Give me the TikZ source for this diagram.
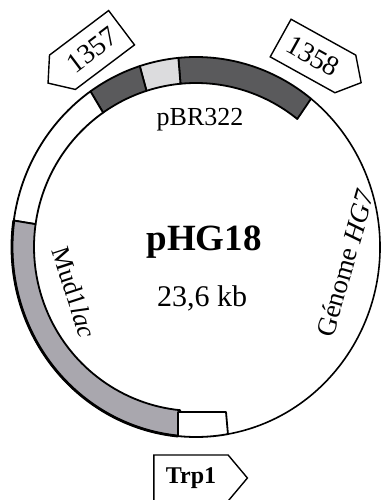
\documentclass[tikz,border=0pt]{standalone}
\usepackage{fontspec}
\setmainfont{Liberation Serif}
\usetikzlibrary{shapes.symbols,calc}

\definecolor{darkseg}{HTML}{5A5A5C}
\definecolor{lightseg}{HTML}{DCDCDE}
\definecolor{mudseg}{HTML}{A9A7AE}

% one coloured block of the plasmid band, between two angles
\newcommand{\bandblock}[3]{%
  \path[seg,fill=#3] ($(c)+(#1:184 and 190)$)
    arc[start angle=#1,end angle=#2,x radius=184,y radius=190]
    -- ($(c)+(#2:162 and 164)$)
    arc[start angle=#2,end angle=#1,x radius=162,y radius=164] -- cycle;}

\begin{document}
\begin{tikzpicture}[x=1pt,y=1pt,
  seg/.style={draw=black,line width=1.8pt,line join=round},
  tag/.style={signal,draw=black,line width=1.4pt,fill=white,
    inner ysep=0pt,inner xsep=9pt,minimum height=43pt,
    signal pointer angle=100,font=\fontsize{28}{28}\selectfont},
  lbl/.style={font=\fontsize{26}{26}\selectfont,inner sep=0pt}]
\useasboundingbox (0,0) rectangle (381,500);
\clip (0,0) rectangle (381,500);
\coordinate (c) at (196,253);

% plasmid band
\bandblock{51.3}{95.5}{darkseg}
\bandblock{95.5}{107.8}{lightseg}
\bandblock{107.8}{125}{darkseg}
\bandblock{125}{172}{white}
\bandblock{172}{264.4}{mudseg}
\draw[line width=2.8pt] ($(c)+(172:184 and 190)$)
  arc[start angle=172,end angle=264.4,x radius=184,y radius=190];

% genomic part: single line
\draw[line width=1.6pt] ($(c)+(-80:184 and 190)$)
  arc[start angle=-80,end angle=51.3,x radius=184,y radius=190];

% Trp1 block
\coordinate (tl) at ($(c)+(264.4:184 and 190)$);
\coordinate (tr) at ($(c)+(-80:184 and 190)$);
\path[seg,fill=white] (tl) -- (tl |- 0,88) -- (226,88) -- (tr)
  arc[start angle=-80,end angle=-95.6,x radius=184,y radius=190] -- cycle;

% tags
\node[tag,signal to=west,rotate=37] (t1357) at (92,450) {1357};
\node[tag,signal to=east,rotate=-29] (t1358) at (313,444) {1358};
\node[tag,signal to=east,minimum height=46pt,inner xsep=12pt,
  font=\fontsize{24}{24}\selectfont\bfseries] (ttrp) at (191,22) {Trp1};

% labels
\node[lbl,anchor=base] (pbr) at (200,374) {pBR322};
\node[lbl,anchor=base,font=\fontsize{37}{37}\selectfont\bfseries] (name) at (204,249) {pHG18};
\node[lbl,anchor=base,font=\fontsize{30}{30}\selectfont] (size) at (202,193) {23,6 kb};
\node[lbl,rotate=-72] (mud) at (74,208) {Mud1\textit{lac}};
\node[lbl,rotate=74,font=\fontsize{27}{27}\selectfont] (hg7) at (345,237) {Génome \textit{HG7}};
\end{tikzpicture}
\end{document}
